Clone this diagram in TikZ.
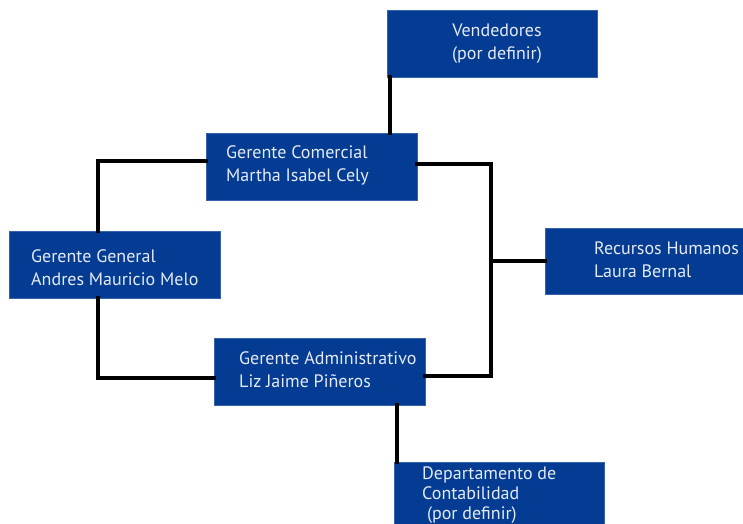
\documentclass[tikz,border=0pt]{standalone}
\usepackage{fontspec}
\setmainfont{PT Sans}
\usetikzlibrary{calc}
\definecolor{boxblue}{RGB}{3,60,146}
\definecolor{boxtext}{RGB}{228,234,246}
\begin{document}
\begin{tikzpicture}[x=1pt,y=-1pt,
  box/.style={draw=boxblue!80!white, line width=0.6pt, fill=boxblue, rectangle, inner sep=0pt},
  lbl/.style={text=boxtext, font=\fontsize{18}{23}\selectfont, align=left, inner sep=0pt},
  conn/.style={draw=black, line width=4pt, line cap=rect}]
\useasboundingbox (0,0) rectangle (743,523);
\clip (0,0) rectangle (743,523);
\fill[white] (0,0) rectangle (743,523);
% boxes
\node[box, minimum width=210pt, minimum height=67pt] (ven) at (492,43.5) {};
\node[box, minimum width=211pt, minimum height=67pt] (com) at (311.5,166.5) {};
\node[box, minimum width=211pt, minimum height=67pt] (gen) at (114.5,264.5) {};
\node[box, minimum width=211pt, minimum height=67pt] (adm) at (319.5,371.5) {};
\node[box, minimum width=211pt, minimum height=66pt] (rh) at (650.5,261) {};
\node[box, minimum width=210pt, minimum height=67pt] (dep) at (499,495.5) {};
% labels
\node[lbl, align=center] (venl) at (497,44) {Vendedores\\(por definir)};
\node[lbl, anchor=west] (coml) at (226,165) {Gerente Comercial\\Martha Isabel Cely};
\node[lbl, anchor=west] (genl) at (31,268) {Gerente General\\Andres Mauricio Melo};
\node[lbl, anchor=west] (adml) at (239,370) {Gerente Administrativo\\Liz Jaime Piñeros};
\node[lbl, anchor=west] (rhl) at (594,260) {Recursos Humanos\\Laura Bernal};
\node[lbl, anchor=west, font=\fontsize{18}{20}\selectfont] (depl) at (422,495) {Departamento de\\Contabilidad\\\ (por definir)};
% connectors
\coordinate (bus) at (491,261);
\coordinate (vtop) at ($(ven.south west)+(3,0)$);
\coordinate (gtop) at ($(gen.north)+(-17,0)$);
\coordinate (gbot) at ($(gen.south)+(-17,0)$);
\coordinate (cl) at ($(com.west)+(0,-6)$);
\coordinate (cr) at ($(com.east)+(0,-3)$);
\coordinate (al) at ($(adm.west)+(0,6.5)$);
\coordinate (ar) at ($(adm.east)+(0,4.5)$);
\coordinate (ab) at ($(adm.south)+(77.5,0)$);
\draw[conn] (vtop) -- (vtop |- com.north);
\draw[conn] (cl) -| (gtop);
\draw[conn] (gbot) |- (al);
\draw[conn] (cr) -| (bus) |- (ar);
\draw[conn] (bus) -- (bus -| rh.west);
\draw[conn] (ab) -- (ab |- dep.north);
\end{tikzpicture}
\end{document}
